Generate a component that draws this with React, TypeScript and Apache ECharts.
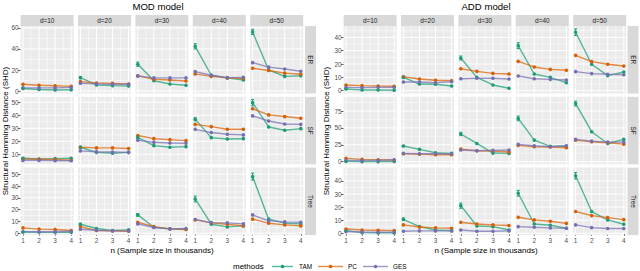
import React, { useEffect, useRef } from "react";
import * as echarts from "echarts";

const METHODS = ["TAM", "PC", "GES"];
const COLORS = ["#1B9E77", "#D95F02", "#7570B3"];
const DIMS = ["d=10", "d=20", "d=30", "d=40", "d=50"];
const GRAPHS = ["ER", "SF", "Tree"];
const N_VALUES = [1, 2, 3, 4];
const X_MINOR = [1.5, 2.5, 3.5];

// ---- MOD model (rows: ER, SF, Tree; each array: d=10..50, each n=1..4)
const MOD_ER_TAM = [[2.5, 1.5, 1, 1.2], [12.8, 5.8, 5.2, 4.8], [25.5, 9.8, 6.7, 5.5], [42.5, 15, 12.5, 10.5], [56.2, 20, 14, 14.5]];
const MOD_ER_PC = [[6.5, 5.5, 5, 4.5], [9, 7.7, 7.3, 6.7], [14.4, 11.2, 10.5, 9.6], [16.3, 14, 12.5, 12], [21.7, 19.5, 17, 16]];
const MOD_ER_GES = [[3, 3, 3, 3.5], [7.5, 6.8, 6.5, 6.5], [14.4, 12.5, 12.5, 12.5], [18.5, 15, 12.8, 13], [27, 22.7, 21, 18.8]];

const MOD_SF_TAM = [[6.9, 6.4, 6.7, 6.9], [15.4, 11.5, 10.8, 11.5], [23, 16.7, 15.4, 15.9], [36.9, 22.8, 21.8, 22], [49.7, 31, 28.5, 29.7]];
const MOD_SF_PC = [[6.4, 6.2, 6, 5.4], [15.4, 14.9, 14.9, 14.4], [24.4, 22, 21.3, 20.5], [33, 31.3, 29.2, 29.2], [45, 40.3, 39, 37.7]];
const MOD_SF_GES = [[5.3, 5.3, 5.1, 5], [12.6, 12, 11.8, 11.5], [20.8, 19.2, 18.7, 18.5], [29.2, 26.7, 25.4, 24.9], [39.5, 35.6, 33.3, 33]];

const MOD_TREE_TAM = [[1, 0.8, 0.7, 0.8], [7.6, 4, 2.3, 2.8], [15.5, 5.1, 3.7, 3.4], [29, 7.6, 5.4, 6.2], [48, 11.9, 8.5, 7.9]];
const MOD_TREE_PC = [[4.5, 3.5, 3.2, 2.3], [5.6, 2.3, 2, 1.7], [9.3, 5.6, 3.7, 3.1], [11.3, 8.8, 7.6, 6.2], [11.9, 8.5, 7.1, 6.2]];
const MOD_TREE_GES = [[1.2, 1.2, 1.3, 1.6], [3.4, 2.5, 2, 2], [7.9, 4.8, 3.7, 4], [11.6, 9, 8.8, 7.9], [15.5, 10.5, 9.6, 9.3]];

// ---- ADD model
const ADD_ER_TAM = [[1.3, 0.5, 0.5, 0.3], [10, 5, 4.8, 3.5], [24.5, 10, 4.3, 1.8], [33.8, 12.5, 10, 6], [43.8, 19.8, 11.3, 14]];
const ADD_ER_PC = [[4.3, 3.8, 3.5, 3.3], [10.5, 8.8, 7.8, 7.5], [16.5, 14.5, 13, 12.5], [22, 17.8, 16, 15.3], [26.5, 21.8, 19.8, 18.5]];
const ADD_ER_GES = [[2.5, 2.3, 2.5, 2.5], [6.5, 6.5, 6, 6.8], [9, 9.3, 9.3, 8.8], [11, 9, 8.5, 8], [14.3, 12.8, 12.3, 12]];

const ADD_SF_TAM = [[0.5, 0.2, 0.2, 0.3], [23.2, 18.3, 13.3, 12.3], [41, 27, 12.8, 12.3], [64, 32, 22.7, 23.2], [86, 44.4, 27, 33]];
const ADD_SF_PC = [[5, 3.5, 3, 2.5], [11.8, 11.3, 10.4, 10.4], [18.7, 16.3, 15.8, 14.3], [24.2, 22.2, 21.7, 20.7], [32, 29.6, 28, 26]];
const ADD_SF_GES = [[2, 1.8, 2, 3], [12.3, 11.8, 11.8, 11.8], [17.3, 16.3, 16.8, 17.3], [25.7, 23.7, 22.2, 23.7], [33, 30.5, 29, 29]];

const ADD_TREE_TAM = [[2, 0.5, 0.3, 0.3], [10.7, 5.1, 2.5, 2], [21.1, 5.6, 5.1, 2.5], [30.6, 7.1, 6.1, 3.8], [44, 16.6, 10.2, 6.9]];
const ADD_TREE_PC = [[3.3, 2.5, 2.3, 2], [6.4, 4.8, 4.1, 3.8], [8.4, 7.1, 6.4, 5.9], [12.2, 10.2, 9.2, 7.6], [16.6, 13.5, 12, 10.4]];
const ADD_TREE_GES = [[1.3, 1, 0.8, 0.8], [1.5, 1.8, 1.8, 1.8], [2.5, 1.5, 1.5, 1.8], [5.1, 4.6, 4.1, 3.8], [6.4, 4.3, 3.6, 3.6]];

// TAM error half-widths at n=1 (per row, per d)
const MOD_TAM_ERR = [[0.5, 1, 2, 2.5, 2.5], [0.5, 0.8, 1, 1.2, 2.5], [0.3, 0.8, 1.2, 2.5, 3]];
const ADD_TAM_ERR = [[0.3, 0.8, 1.5, 2.2, 2.5], [0.3, 1, 2.5, 3.5, 3.5], [0.3, 1, 2, 2.2, 2.5]];

// axis ticks per row
const MOD_Y_TICKS = [[0, 20, 40, 60], [10, 20, 30, 40, 50], [0, 10, 20, 30, 40, 50]];
const MOD_Y_MINOR = [[10, 30, 50], [5, 15, 25, 35, 45], [5, 15, 25, 35, 45]];
const MOD_Y_RANGE = [[-2.3, 61.8], [2.3, 54.2], [-1.6, 55.6]];
const ADD_Y_TICKS = [[0, 10, 20, 30, 40], [0, 25, 50, 75], [0, 10, 20, 30, 40]];
const ADD_Y_MINOR = [[5, 15, 25, 35, 45], [12.5, 37.5, 62.5, 87.5], [5, 15, 25, 35, 45]];
const ADD_Y_RANGE = [[-2.1, 48.5], [-3.8, 96], [-1.4, 50.2]];

const FONT = "'Liberation Sans', Arial, sans-serif";

const MODELS = [
  {
    title: "MOD model",
    data: [
      [MOD_ER_TAM, MOD_ER_PC, MOD_ER_GES],
      [MOD_SF_TAM, MOD_SF_PC, MOD_SF_GES],
      [MOD_TREE_TAM, MOD_TREE_PC, MOD_TREE_GES],
    ],
    err: MOD_TAM_ERR,
    ticks: MOD_Y_TICKS,
    minor: MOD_Y_MINOR,
    range: MOD_Y_RANGE,
    left0: 20.6,
    stripX: 305,
    titleX: 158,
    yTitleX: 5,
    xTitleX: 162,
  },
  {
    title: "ADD model",
    data: [
      [ADD_ER_TAM, ADD_ER_PC, ADD_ER_GES],
      [ADD_SF_TAM, ADD_SF_PC, ADD_SF_GES],
      [ADD_TREE_TAM, ADD_TREE_PC, ADD_TREE_GES],
    ],
    err: ADD_TAM_ERR,
    ticks: ADD_Y_TICKS,
    minor: ADD_Y_MINOR,
    range: ADD_Y_RANGE,
    left0: 343.6,
    stripX: 627.5,
    titleX: 486,
    yTitleX: 326,
    xTitleX: 486,
  },
];

const ROW_TOP = [26, 96.8, 167.6];
const ROW_H = 67.5;
const COL_STEP = 57.4;
const PANEL_W = 53;

function textEl(text: string, x: number, y: number, size: number, color: string, rotation = 0, align = "center") {
  return {
    type: "text",
    x,
    y,
    rotation,
    silent: true,
    z: 100,
    style: {
      text,
      fontSize: size,
      fontFamily: FONT,
      fill: color,
      align,
      verticalAlign: "middle",
      textAlign: align,
      textVerticalAlign: "middle",
    },
  };
}

function buildOption() {
  const grid: any[] = [];
  const xAxis: any[] = [];
  const yAxis: any[] = [];
  const series: any[] = [];
  const graphic: any[] = [];

  MODELS.forEach((m) => {
    graphic.push(textEl(m.title, m.titleX, 6.5, 9.6, "#000"));
    graphic.push(textEl("Structural Hamming Distance (SHD)", m.yTitleX, 131, 8, "#000", Math.PI / 2));
    graphic.push(textEl("n (Sample size in thousands)", m.xTitleX, 250, 8, "#000"));

    for (let r = 0; r < 3; r++) {
      // right strip
      graphic.push({
        type: "rect",
        silent: true,
        z: 90,
        shape: { x: m.stripX, y: ROW_TOP[r], width: 11, height: ROW_H },
        style: { fill: "#D9D9D9" },
      });
      graphic.push(textEl(GRAPHS[r], m.stripX + 5.5, ROW_TOP[r] + ROW_H / 2, 6.4, "#1A1A1A", -Math.PI / 2));

      for (let c = 0; c < 5; c++) {
        const gi = grid.length;
        const left = m.left0 + c * COL_STEP;
        const [ymin, ymax] = m.range[r];
        grid.push({
          left,
          top: ROW_TOP[r],
          width: PANEL_W,
          height: ROW_H,
          show: true,
          backgroundColor: "#EBEBEB",
          borderWidth: 0,
        });
        if (r === 0) {
          graphic.push({
            type: "rect",
            silent: true,
            z: 90,
            shape: { x: left, y: 15, width: PANEL_W, height: 11 },
            style: { fill: "#D9D9D9" },
          });
          graphic.push(textEl(DIMS[c], left + PANEL_W / 2, 20.5, 6.4, "#1A1A1A"));
        }
        xAxis.push({
          type: "value",
          gridIndex: gi,
          min: 0.85,
          max: 4.15,
          axisLine: { show: false },
          splitLine: { show: false },
          axisTick: { show: r === 2, customValues: N_VALUES, length: 2.5, lineStyle: { color: "#333333", width: 0.8 } },
          axisLabel: {
            show: r === 2,
            customValues: N_VALUES,
            fontSize: 6.4,
            color: "#4D4D4D",
            margin: 2.5,
            fontFamily: FONT,
          },
        });
        yAxis.push({
          type: "value",
          gridIndex: gi,
          min: ymin,
          max: ymax,
          axisLine: { show: false },
          splitLine: { show: false },
          axisTick: { show: c === 0, customValues: m.ticks[r], length: 2.5, lineStyle: { color: "#333333", width: 0.8 } },
          axisLabel: {
            show: c === 0,
            customValues: m.ticks[r],
            fontSize: 6.4,
            color: "#4D4D4D",
            margin: 2,
            fontFamily: FONT,
          },
        });

        // grid lines
        const gl: number[][] = [];
        m.minor[r].forEach((v) => gl.push([1, v, 0]));
        m.ticks[r].forEach((v) => gl.push([1, v, 1]));
        X_MINOR.forEach((v) => gl.push([v, ymin, 2]));
        N_VALUES.forEach((v) => gl.push([v, ymin, 3]));
        series.push({
          type: "custom",
          xAxisIndex: gi,
          yAxisIndex: gi,
          silent: true,
          z: 1,
          clip: false,
          data: gl,
          renderItem: (params: any, api: any) => {
            const cs = params.coordSys;
            const kind = api.value(2);
            if (kind < 2) {
              const y = api.coord([1, api.value(1)])[1];
              return {
                type: "line",
                shape: { x1: cs.x, y1: y, x2: cs.x + cs.width, y2: y },
                style: { stroke: "#FFFFFF", lineWidth: kind === 1 ? 1 : 0.5 },
              };
            }
            const x = api.coord([api.value(0), ymin])[0];
            return {
              type: "line",
              shape: { x1: x, y1: cs.y, x2: x, y2: cs.y + cs.height },
              style: { stroke: "#FFFFFF", lineWidth: kind === 3 ? 1 : 0.5 },
            };
          },
        });

        // method lines
        METHODS.forEach((name, k) => {
          const vals = m.data[r][k][c];
          series.push({
            type: "line",
            name,
            xAxisIndex: gi,
            yAxisIndex: gi,
            z: 3 + k,
            data: N_VALUES.map((n, i) => [n, vals[i]]),
            symbol: "circle",
            symbolSize: 3.6,
            showSymbol: true,
            lineStyle: { color: COLORS[k], width: 1.4, opacity: 0.72 },
            itemStyle: { color: COLORS[k] },
            silent: true,
          });
        });

        // TAM error bar at n=1
        const e = m.err[r][c];
        const tamVals = m.data[r][0][c];
        series.push({
          type: "custom",
          xAxisIndex: gi,
          yAxisIndex: gi,
          silent: true,
          z: 6,
          clip: false,
          data: [[N_VALUES[0], tamVals[0], e]],
          renderItem: (params: any, api: any) => {
            const x = api.value(0);
            const v = api.value(1);
            const er = api.value(2);
            const t = api.coord([x, v + er]);
            const b = api.coord([x, v - er]);
            const st = { stroke: COLORS[0], lineWidth: 1 };
            return {
              type: "group",
              children: [
                { type: "line", shape: { x1: t[0], y1: t[1], x2: b[0], y2: b[1] }, style: st },
                { type: "line", shape: { x1: t[0] - 1.5, y1: t[1], x2: t[0] + 1.5, y2: t[1] }, style: st },
                { type: "line", shape: { x1: b[0] - 1.5, y1: b[1], x2: b[0] + 1.5, y2: b[1] }, style: st },
              ],
            };
          },
        });
      }
    }
  });

  // legend
  const LEGEND_Y = 266.5;
  graphic.push(textEl("methods", 233, LEGEND_Y, 8, "#000", 0, "left"));
  const keys = [
    { x1: 272, x2: 293, tx: 299 },
    { x1: 318, x2: 343, tx: 348 },
    { x1: 363, x2: 388, tx: 393 },
  ];
  METHODS.forEach((name, k) => {
    const kk = keys[k];
    graphic.push({
      type: "line",
      silent: true,
      z: 100,
      shape: { x1: kk.x1, y1: LEGEND_Y, x2: kk.x2, y2: LEGEND_Y },
      style: { stroke: COLORS[k], lineWidth: 1.4, opacity: 0.72 },
    });
    graphic.push({
      type: "circle",
      silent: true,
      z: 101,
      shape: { cx: (kk.x1 + kk.x2) / 2, cy: LEGEND_Y, r: 1.8 },
      style: { fill: COLORS[k] },
    });
    graphic.push(textEl(name, kk.tx, LEGEND_Y, 6.4, "#000", 0, "left"));
  });

  return {
    animation: false,
    backgroundColor: "#FFFFFF",
    grid,
    xAxis,
    yAxis,
    series,
    graphic,
  };
}

export default function App() {
  const ref = useRef<HTMLDivElement>(null);
  useEffect(() => {
    if (!ref.current) return;
    const chart = echarts.init(ref.current, undefined, { renderer: "svg" });
    chart.setOption(buildOption() as any);
    return () => chart.dispose();
  }, []);
  return (
    <div
      ref={ref}
      style={{ position: "absolute", left: 0, top: 0, width: 640, height: 271 }}
    />
  );
}
